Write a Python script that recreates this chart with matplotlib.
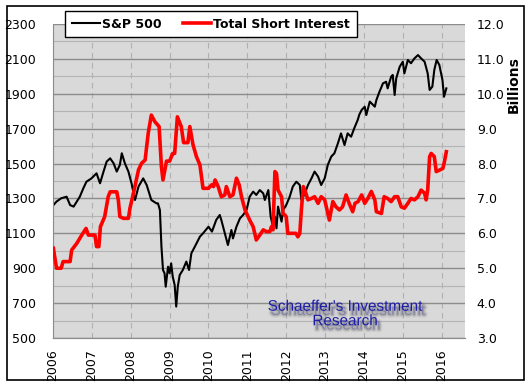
import numpy as np
import matplotlib
matplotlib.use("Agg")
import matplotlib.pyplot as plt
from matplotlib.ticker import FormatStrFormatter
from matplotlib.patches import Rectangle
import matplotlib.patheffects as pe

# S&P 500 (left axis)
sp_years = [2006.01, 2006.09, 2006.21, 2006.35, 2006.44, 2006.53, 2006.61, 2006.69, 2006.78, 2006.86,
            2006.99, 2007.12, 2007.21, 2007.30, 2007.38, 2007.47, 2007.56, 2007.64, 2007.72, 2007.77,
            2007.85, 2007.94, 2008.02, 2008.11, 2008.20, 2008.32, 2008.41, 2008.53, 2008.66, 2008.70,
            2008.75, 2008.79, 2008.83, 2008.87, 2008.90, 2008.96, 2009.00, 2009.04, 2009.08, 2009.13,
            2009.17, 2009.21, 2009.26, 2009.34, 2009.43, 2009.50, 2009.56, 2009.65, 2009.78, 2009.86,
            2010.00, 2010.09, 2010.20, 2010.29, 2010.33, 2010.42, 2010.50, 2010.59, 2010.63, 2010.72,
            2010.81, 2010.89, 2010.98, 2011.06, 2011.15, 2011.23, 2011.32, 2011.41, 2011.45, 2011.54,
            2011.60, 2011.66, 2011.71, 2011.75, 2011.79, 2011.88, 2011.92, 2012.00, 2012.09, 2012.17,
            2012.26, 2012.35, 2012.39, 2012.48, 2012.56, 2012.65, 2012.73, 2012.82, 2012.90, 2012.99,
            2013.07, 2013.16, 2013.24, 2013.33, 2013.41, 2013.50, 2013.58, 2013.67, 2013.75, 2013.84,
            2013.88, 2013.94, 2014.02, 2014.06, 2014.15, 2014.28, 2014.32, 2014.40, 2014.49, 2014.57,
            2014.61, 2014.70, 2014.74, 2014.79, 2014.83, 2014.92, 2015.00, 2015.04, 2015.13, 2015.21,
            2015.30, 2015.39, 2015.47, 2015.56, 2015.64, 2015.69, 2015.76, 2015.81, 2015.87, 2015.94,
            2016.02, 2016.06, 2016.12]
sp_vals = [1262, 1282, 1301, 1310, 1262, 1253, 1282, 1310, 1358, 1396,
           1415, 1444, 1387, 1454, 1511, 1530, 1501, 1454, 1492, 1559,
           1501, 1454, 1387, 1291, 1368, 1415, 1377, 1291, 1272, 1272,
           1234, 1024, 890, 871, 794, 909, 871, 928, 852, 804,
           680, 794, 861, 890, 938, 890, 986, 1024, 1081, 1100,
           1138, 1110, 1177, 1205, 1177, 1100, 1033, 1119, 1071, 1138,
           1186, 1205, 1234, 1310, 1339, 1320, 1348, 1329, 1291, 1348,
           1196, 1138, 1196, 1129, 1253, 1167, 1234, 1262, 1310, 1368,
           1396, 1377, 1291, 1329, 1377, 1415, 1454, 1425, 1377, 1415,
           1492, 1540, 1559, 1616, 1673, 1606, 1673, 1654, 1702, 1750,
           1780, 1807, 1826, 1778, 1855, 1826, 1864, 1912, 1960, 1969,
           1931, 1998, 2008, 1893, 1988, 2055, 2084, 2017, 2094, 2075,
           2103, 2122, 2103, 2084, 2017, 1922, 1941, 2036, 2094, 2065,
           1979, 1883, 1931]

# Total short interest, billions (right axis)
si_years = [2006.01, 2006.09, 2006.21, 2006.26, 2006.44, 2006.48, 2006.61, 2006.74, 2006.85, 2006.91,
            2007.08, 2007.12, 2007.18, 2007.22, 2007.33, 2007.42, 2007.47, 2007.64, 2007.68, 2007.72,
            2007.81, 2007.94, 2007.98, 2008.07, 2008.20, 2008.28, 2008.37, 2008.45, 2008.53, 2008.62,
            2008.73, 2008.79, 2008.83, 2008.92, 2009.00, 2009.08, 2009.13, 2009.20, 2009.30, 2009.36,
            2009.47, 2009.52, 2009.60, 2009.69, 2009.78, 2009.82, 2009.86, 2010.00, 2010.08, 2010.13,
            2010.17, 2010.25, 2010.33, 2010.42, 2010.46, 2010.55, 2010.63, 2010.72, 2010.79, 2010.85,
            2010.94, 2011.06, 2011.15, 2011.23, 2011.32, 2011.41, 2011.49, 2011.58, 2011.62, 2011.66,
            2011.71, 2011.75, 2011.79, 2011.88, 2011.92, 2012.00, 2012.04, 2012.25, 2012.30, 2012.35,
            2012.39, 2012.44, 2012.48, 2012.56, 2012.65, 2012.73, 2012.82, 2012.90, 2012.99, 2013.07,
            2013.11, 2013.20, 2013.28, 2013.37, 2013.45, 2013.54, 2013.62, 2013.71, 2013.77, 2013.85,
            2013.94, 2014.02, 2014.10, 2014.19, 2014.28, 2014.32, 2014.45, 2014.52, 2014.61, 2014.70,
            2014.79, 2014.87, 2014.96, 2015.04, 2015.13, 2015.21, 2015.30, 2015.39, 2015.47, 2015.56,
            2015.60, 2015.64, 2015.69, 2015.73, 2015.81, 2015.86, 2015.94, 2016.03, 2016.07, 2016.12]
si_vals = [5.57, 5.00, 5.00, 5.19, 5.19, 5.52, 5.71, 5.95, 6.14, 5.95,
           5.95, 5.62, 5.62, 6.19, 6.48, 7.05, 7.19, 7.19, 6.96, 6.48,
           6.43, 6.43, 6.72, 7.15, 7.82, 8.01, 8.10, 8.87, 9.39, 9.20,
           9.06, 7.90, 7.53, 8.07, 8.07, 8.29, 8.29, 9.34, 9.06, 8.60,
           8.60, 9.06, 8.55, 8.20, 7.96, 7.62, 7.29, 7.29, 7.39, 7.34,
           7.53, 7.34, 7.05, 7.10, 7.34, 7.05, 7.10, 7.58, 7.39, 7.05,
           6.67, 6.38, 6.19, 5.81, 5.95, 6.10, 6.05, 6.05, 6.19, 6.10,
           7.77, 7.72, 7.24, 7.05, 6.57, 6.48, 6.00, 6.00, 5.90, 6.00,
           6.67, 7.34, 7.24, 6.96, 7.00, 7.05, 6.86, 7.05, 6.96, 6.57,
           6.38, 6.91, 6.76, 6.67, 6.76, 7.10, 6.86, 6.62, 6.86, 6.91,
           7.10, 6.86, 7.00, 7.20, 6.96, 6.62, 6.57, 7.05, 7.00, 6.91,
           7.05, 7.05, 6.76, 6.72, 6.86, 7.00, 6.96, 7.05, 7.24, 7.15,
           6.96, 7.24, 8.20, 8.29, 8.20, 7.77, 7.81, 7.86, 8.05, 8.34]

year_ticks = list(range(2006, 2017))
left_ticks = list(range(500, 2301, 200))
left_minor = list(range(600, 2300, 200))
right_ticks = [3.0, 4.0, 5.0, 6.0, 7.0, 8.0, 9.0, 10.0, 11.0, 12.0]

fig = plt.figure(figsize=(5.32, 3.90), dpi=100)
fig.patch.set_facecolor("white")
fig.patches.append(Rectangle((7 / 532, 1 - 380 / 390), 517 / 532, 374 / 390,
                             transform=fig.transFigure, fill=False, edgecolor="black", linewidth=1.2))

ax = fig.add_axes([53 / 532, 1 - 338 / 390, 412 / 532, 314 / 390])
ax.set_facecolor("#d9d9d9")
ax2 = ax.twinx()

ax.plot(sp_years, sp_vals, color="black", linewidth=1.5, label="S&P 500")
ax2.plot(si_years, si_vals, color="#ff0000", linewidth=2.6, label="Total Short Interest")

ax.set_xlim(2006, 2016.6)
ax.set_ylim(500, 2300)
ax2.set_ylim(3, 12)
ax.set_yticks(left_ticks)
ax.set_yticks(left_minor, minor=True)
ax2.set_yticks(right_ticks)
ax2.yaxis.set_major_formatter(FormatStrFormatter("%.1f"))
ax.set_xticks(year_ticks)
ax.set_xticklabels([str(y) for y in year_ticks], rotation=90)

ax.grid(axis="y", which="major", color="#8c8c8c", linewidth=1.0)
ax.grid(axis="y", which="minor", color="#b4b4b4", linewidth=0.8)
ax.grid(axis="x", which="major", color="#b0b0b0", linewidth=0.8, linestyle=(0, (5, 4)))
ax.set_axisbelow(True)

for a in (ax, ax2):
    a.tick_params(which="both", length=0, labelsize=9)
    for s in a.spines.values():
        s.set_color("#8c8c8c")
    a.spines["top"].set_visible(False)
ax.spines["right"].set_visible(False)
ax2.spines["right"].set_visible(False)
ax2.spines["left"].set_visible(False)
ax.tick_params(axis="y", pad=12)
ax2.tick_params(axis="y", pad=8.5)
ax.tick_params(axis="x", pad=8)

fig.text(514 / 532, 1 - 85 / 390, "Billions", rotation=90, ha="center", va="center",
         fontsize=10, fontweight="bold")

h1, l1 = ax.get_legend_handles_labels()
h2, l2 = ax2.get_legend_handles_labels()
leg = fig.legend(h1 + h2, l1 + l2, ncol=2, loc="center",
                 bbox_to_anchor=(211 / 532, 1 - 24 / 390), frameon=True, fancybox=False,
                 edgecolor="black", framealpha=1, handlelength=2.2, handletextpad=0.2,
                 columnspacing=1.7, borderpad=0.55, prop={"weight": "bold", "size": 9})
leg.get_frame().set_linewidth(1.0)

fig.text(345 / 532, 1 - 314 / 390, "Schaeffer's Investment\nResearch", ha="center", va="center",
         fontsize=11, family="Liberation Sans", color="#1c1ca8", linespacing=1.05,
         path_effects=[pe.Stroke(linewidth=4, foreground="#707070", alpha=0.12, offset=(2, -3)),
                       pe.Stroke(linewidth=2, foreground="#606060", alpha=0.25, offset=(2, -3)),
                       pe.Normal()])

fig.savefig("out.png", dpi=100)
